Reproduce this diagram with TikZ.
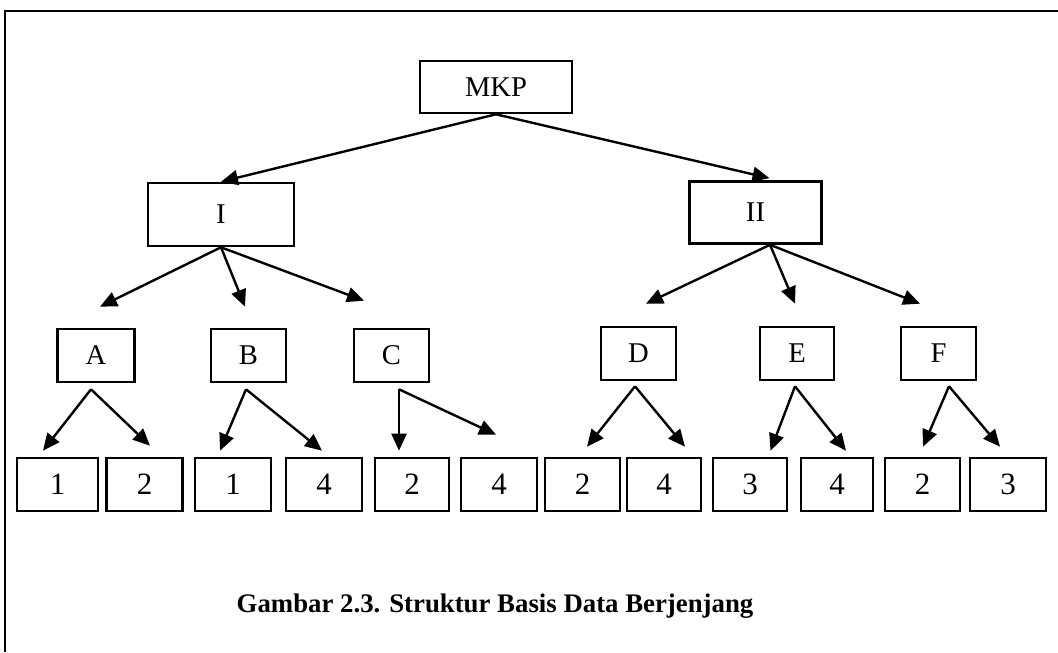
\documentclass[tikz,border=0pt]{standalone}
\usepackage{fontspec}
\setmainfont{Liberation Serif}
\usetikzlibrary{arrows.meta,calc}

\begin{document}
\begin{tikzpicture}[x=0.5pt, y=-0.5pt,
    box/.style={draw, line width=1.3pt, inner sep=0pt, minimum height=26.5pt,
      font=\fontsize{14.3}{16}\selectfont},
    leaf/.style={box, minimum width=38pt, font=\fontsize{15.5}{17}\selectfont},
    arr/.style={line width=1.2pt, -{Triangle[length=8.5pt,width=7.5pt]}}]
      \useasboundingbox (0,0) rectangle (1058,652);
      \draw[line width=1.3pt] (5,652) -- (5,11) -- (1058,11);
      % levels
      \node[box, minimum width=76pt, minimum height=26pt] (mkp) at (496,87) {MKP};
      \node[box, minimum width=73pt, minimum height=31.5pt] (I) at (221,214.5) {I};
      \node[box, minimum width=66pt, minimum height=31pt] (II) at (755.5,212.5) {II};
      \node[box, minimum width=38.5pt] (A) at (96,355.5) {A};
      \node[box, minimum width=37.5pt] (B) at (248.5,355.5) {B};
      \node[box, minimum width=37.5pt] (C) at (391.5,355.5) {C};
      \node[box, minimum width=37.5pt] (D) at (638.5,353.5) {D};
      \node[box, minimum width=37pt] (E) at (797,353.5) {E};
      \node[box, minimum width=37.5pt] (F) at (938.5,353.5) {F};
      % leaves
      \node[leaf, minimum width=40.5pt] (a1) at (57.5,484.5) {1};
      \node[leaf] (a2) at (144.5,484.5) {2};
      \node[leaf] (b1) at (233,484.5) {1};
      \node[leaf] (b4) at (324,484.5) {4};
      \node[leaf, minimum width=37pt] (c2) at (412,484.5) {2};
      \node[leaf] (c4) at (499,484.5) {4};
      \node[leaf, minimum width=37.5pt] (d2) at (582.5,484.5) {2};
      \node[leaf, minimum width=37pt] (d4) at (664,484.5) {4};
      \node[leaf, minimum width=37pt] (e3) at (750,484.5) {3};
      \node[leaf, minimum width=36pt] (e4) at (837,484.5) {4};
      \node[leaf, minimum width=37.5pt] (f2) at (922.5,484.5) {2};
      \node[leaf] (f3) at (1008,484.5) {3};
      % arrows
      \draw[arr] (mkp.south) -- (I.north);
      \draw[arr] (mkp.south) -- ($(II.north)+(14,-2)$);
      \draw[arr] (I.south) -- ($(A.north)+(4,-21)$);
      \draw[arr] (I.south) -- ($(B.north)+(-3.5,-21)$);
      \draw[arr] (I.south) -- ($(C.north)+(-27.5,-27)$);
      \draw[arr] ($(II.south)+(14.5,0)$) -- ($(D.north)+(7.5,-22)$);
      \draw[arr] ($(II.south)+(14.5,0)$) -- ($(E.north)+(-2,-22)$);
      \draw[arr] ($(II.south)+(14.5,0)$) -- ($(F.north)+(-18.5,-22)$);
      \draw[arr] ($(A.south)+(-5,6)$) -- ($(a1.north)+(-14.5,-6)$);
      \draw[arr] ($(A.south)+(-5,6)$) -- ($(a2.north)+(5.5,-11)$);
      \draw[arr] ($(B.south)+(-2.5,6)$) -- ($(b1.north)+(-13,-6)$);
      \draw[arr] ($(B.south)+(-2.5,6)$) -- ($(b4.north)+(-2,-6)$);
      \draw[arr] ($(C.south)+(7.5,6)$) -- ($(c2.north)+(-13,-6)$);
      \draw[arr] ($(C.south)+(7.5,6)$) -- ($(c4.north)+(-3,-22)$);
      \draw[arr] ($(D.south)+(-3.5,5)$) -- ($(d2.north)+(4.5,-10)$);
      \draw[arr] ($(D.south)+(-3.5,5)$) -- ($(d4.north)+(21,-10)$);
      \draw[arr] ($(E.south)+(-2,5)$) -- ($(e3.north)+(20.5,-6)$);
      \draw[arr] ($(E.south)+(-2,5)$) -- ($(e4.north)+(9,-6)$);
      \draw[arr] ($(F.south)+(10.5,5)$) -- ($(f2.north)+(0.5,-10)$);
      \draw[arr] ($(F.south)+(10.5,5)$) -- ($(f3.north)+(-8,-10)$);
      \node[anchor=base, font=\fontsize{13.4}{16}\selectfont\bfseries] (cap) at (495,612)
        {Gambar 2.3. Struktur Basis Data Berjenjang};
\end{tikzpicture}
\end{document}
